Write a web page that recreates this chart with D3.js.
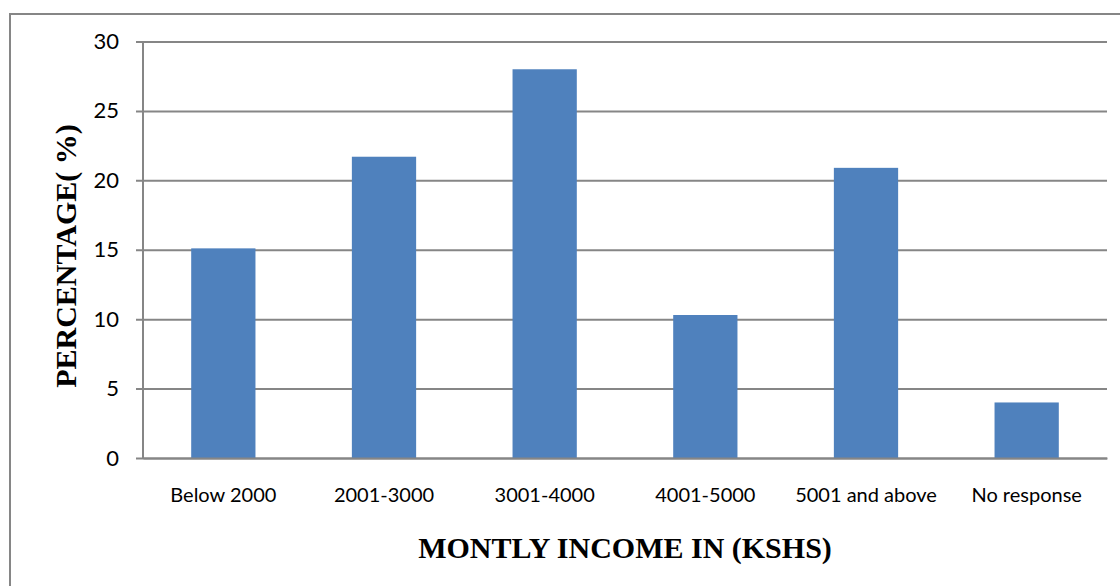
<!DOCTYPE html>
<html>
<head>
<meta charset="utf-8">
<script src="https://cdnjs.cloudflare.com/ajax/libs/d3/7.8.5/d3.min.js"></script>
<style>
  body { margin: 0; background: #fff; }
  svg { display: block; }
</style>
</head>
<body>
<div id="chart"></div>
<script>
// data
const categories = ['Below 2000', '2001-3000', '3001-4000', '4001-5000', '5001 and above', 'No response'];
const percentages = [15.1, 21.7, 28.0, 10.3, 20.9, 4.0];
const yTicks = [0, 5, 10, 15, 20, 25, 30];

const totalWidth = 1120;
const totalHeight = 586;
const margin = {top: 41.5, right: 13, bottom: 128, left: 143};
const width = totalWidth - margin.left - margin.right;
const height = totalHeight - margin.top - margin.bottom;
const lineColor = '#868686';

let svg = d3.select('#chart')
  .append('svg')
    .attr('width', totalWidth)
    .attr('height', totalHeight);

// outer frame of the chart object
svg.append('rect')
    .attr('x', 10)
    .attr('y', 14)
    .attr('width', 1130)
    .attr('height', 600)
    .attr('fill', 'none')
    .attr('stroke', lineColor)
    .attr('stroke-width', 2);

let g = svg.append('g')
    .attr('transform', 'translate(' + margin.left + ',' + margin.top + ')');

let x = d3.scaleBand().domain(categories).range([0, width]).padding(0);
let y = d3.scaleLinear().domain([0, 30]).range([height, 0]);

// gridlines + left ticks
let axisLeft = g.append('g')
    .call(d3.axisLeft(y).tickValues(yTicks).tickSize(7).tickPadding(17));
axisLeft.select('.domain').remove();
axisLeft.selectAll('.tick line')
    .attr('x2', width)
    .attr('x1', -7)
    .attr('stroke', lineColor)
    .attr('stroke-width', 2);
axisLeft.selectAll('.tick text')
    .attr('font-family', 'Lato, sans-serif')
    .attr('font-size', 22)
    .attr('fill', '#000');

// vertical axis line
g.append('line')
    .attr('x1', 0).attr('x2', 0)
    .attr('y1', 0).attr('y2', height)
    .attr('stroke', lineColor)
    .attr('stroke-width', 2);

// bars
const barWidth = x.bandwidth() * 0.4;
g.selectAll('.bar')
  .data(percentages)
  .enter().append('rect')
    .attr('class', 'bar')
    .attr('x', function(d, i) {
      return x(categories[i]) + (x.bandwidth() - barWidth) / 2;
    })
    .attr('y', function(d) {
      return y(d);
    })
    .attr('width', barWidth)
    .attr('height', function(d) {
      return height - y(d);
    })
    .attr('fill', '#4F81BD');

// bottom axis
let axisBottom = g.append('g')
    .attr('transform', 'translate(0,' + height + ')')
    .call(d3.axisBottom(x).tickSize(0).tickPadding(30));
axisBottom.select('.domain')
    .attr('stroke', lineColor)
    .attr('stroke-width', 2);
axisBottom.selectAll('.tick text')
    .attr('font-family', 'Lato, sans-serif')
    .attr('font-size', 20)
    .attr('fill', '#000');

// axis titles
svg.append('text')
    .attr('transform', 'translate(76,' + 256 + ') rotate(-90)')
    .attr('text-anchor', 'middle')
    .attr('font-family', '"Liberation Serif", serif')
    .attr('font-weight', 'bold')
    .attr('font-size', 30)
    .text('PERCENTAGE( %)');

svg.append('text')
    .attr('x', 625)
    .attr('y', 558)
    .attr('text-anchor', 'middle')
    .attr('font-family', '"Liberation Serif", serif')
    .attr('font-weight', 'bold')
    .attr('font-size', 30)
    .text('MONTLY INCOME IN (KSHS)');
</script>
</body>
</html>
